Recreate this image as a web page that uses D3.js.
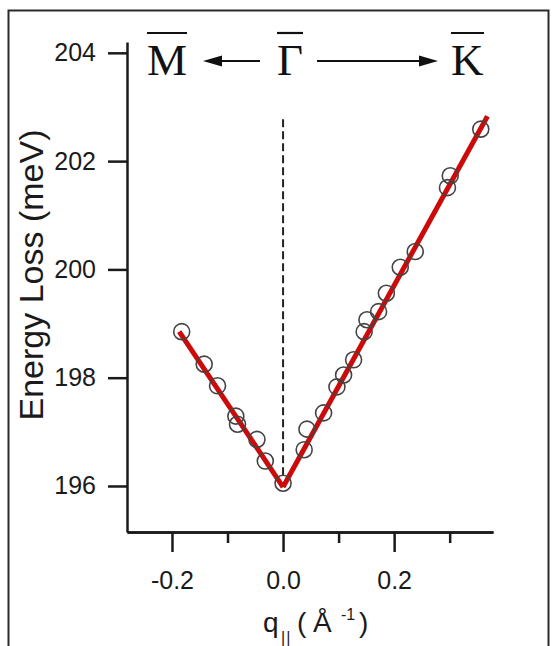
<!DOCTYPE html>
<html>
<head>
<meta charset="utf-8">
<script src="https://cdn.jsdelivr.net/npm/d3@7"></script>
<style>
  body { margin: 0; background: #fff; }
  svg { display: block; }
  .axis path, .axis line { stroke: #1a1a1a; stroke-width: 2.5; }
  .axis text { font-family: "Liberation Sans", Arial, sans-serif; font-size: 25px; fill: #1a1a1a; }
</style>
</head>
<body>
<div id="chart"></div>
<script>
//----------------------------DATA------------------------------//
// measured points, M direction (negative q) and K direction (positive q)
var qM = [-0.1825, -0.142, -0.118, -0.085, -0.082, -0.047, -0.032, 0.0];
var eM = [198.85, 198.25, 197.85, 197.29, 197.14, 196.86, 196.46, 196.05];
var qK = [0.038, 0.043, 0.073, 0.097, 0.109, 0.127, 0.146, 0.151, 0.172, 0.186, 0.211, 0.238, 0.296, 0.301, 0.356];
var eK = [196.67, 197.05, 197.35, 197.83, 198.05, 198.33, 198.85, 199.07, 199.22, 199.56, 200.04, 200.33, 201.51, 201.73, 202.59];

// linear fits (end points)
var fitM = [[-0.187, 198.85], [0.0, 195.98]];
var fitK = [[0.0, 195.98], [0.368, 202.83]];

// dashed Gamma marker
var gammaLine = [[0.0, 196.2], [0.0, 202.8]];

var yTicks = [196, 198, 200, 202, 204];
var xTicksMajor = [-0.2, 0.0, 0.2];
var xTicksMinor = [-0.1, 0.1, 0.3];

//----------------------------SVG-------------------------------//
var W = 557, H = 646;
var svg = d3.select("#chart").append("svg")
    .attr("width", W)
    .attr("height", H);

// outer frame
svg.append("rect")
    .attr("x", 8.5).attr("y", 10.5)
    .attr("width", 540).attr("height", 660)
    .attr("fill", "none")
    .attr("stroke", "#2a2a2a")
    .attr("stroke-width", 2);

//---------------------------SCALES-----------------------------//
var x = d3.scaleLinear().domain([-0.281, 0.378]).range([127, 493]);
var y = d3.scaleLinear().domain([195.15, 204.2]).range([532, 42]);

//----------------------------AXES------------------------------//
svg.append("g")
    .attr("class", "axis")
    .attr("transform", "translate(127,0)")
    .call(d3.axisLeft(y).tickValues(yTicks).tickFormat(d3.format("d"))
        .tickSize(19).tickSizeOuter(0).tickPadding(12));

// minor x ticks
svg.append("g")
    .attr("class", "axis")
    .attr("transform", "translate(0,532)")
    .call(d3.axisBottom(x).tickValues(xTicksMinor).tickFormat("")
        .tickSize(11).tickSizeOuter(0));

svg.append("g")
    .attr("class", "axis")
    .attr("transform", "translate(0,532)")
    .call(d3.axisBottom(x).tickValues(xTicksMajor).tickFormat(d3.format(".1f"))
        .tickSize(20).tickSizeOuter(0).tickPadding(19));

// d3 uses a unicode minus, the figure uses a hyphen
svg.selectAll(".axis text").text(function() { return this.textContent.replace("\u2212", "-"); });

// axis titles
svg.append("text")
    .attr("transform", "translate(43,275) rotate(-90)")
    .attr("text-anchor", "middle")
    .style("font-family", "Liberation Sans, Arial, sans-serif")
    .style("font-size", "34px")
    .style("fill", "#1a1a1a")
    .text("Energy Loss (meV)");

var xt = svg.append("text")
    .attr("y", 632)
    .style("font-family", "Liberation Sans, Arial, sans-serif")
    .style("font-size", "28px")
    .style("fill", "#1a1a1a");
xt.append("tspan").attr("x", 263).text("q");
xt.append("tspan").attr("x", 281).attr("dy", 11).style("font-size", "16px").style("letter-spacing", "1px").text("||");
xt.append("tspan").attr("x", 297).attr("dy", -11).text("(");
xt.append("tspan").attr("x", 313).text("\u00C5");
xt.append("tspan").attr("x", 341).attr("dy", -12).style("font-size", "16px").text("-1");
xt.append("tspan").attr("x", 359).attr("dy", 12).text(")");

//----------------------------LINES-----------------------------//
var line = d3.line()
    .x(function(d) { return x(d[0]); })
    .y(function(d) { return y(d[1]); });

svg.append("path")
    .attr("d", line(gammaLine))
    .attr("fill", "none")
    .attr("stroke", "#222")
    .attr("stroke-width", 2)
    .attr("stroke-dasharray", "8,4");

[fitM, fitK].forEach(function(f) {
    svg.append("path")
        .attr("d", line(f))
        .attr("fill", "none")
        .attr("stroke", "#cc0a0a")
        .attr("stroke-width", 5);
});

//----------------------------POINTS----------------------------//
var pts = qM.map(function(q, i) { return [q, eM[i]]; })
    .concat(qK.map(function(q, i) { return [q, eK[i]]; }));

svg.selectAll(".pt")
    .data(pts)
    .enter()
    .append("circle")
    .attr("class", "pt")
    .attr("cx", function(d) { return x(d[0]); })
    .attr("cy", function(d) { return y(d[1]); })
    .attr("r", 8)
    .attr("fill", "none")
    .attr("stroke", "#444")
    .attr("stroke-width", 1.6);

//------------------------DIRECTION LABELS----------------------//
var serif = "Liberation Serif, Times New Roman, serif";
function barLabel(txt, x0) {
    var t = svg.append("text")
        .attr("x", x0).attr("y", 75)
        .style("font-family", serif)
        .style("font-size", "45px")
        .style("fill", "#111")
        .text(txt);
    var b = t.node().getBBox();
    svg.append("line")
        .attr("x1", b.x).attr("x2", b.x + b.width)
        .attr("y1", 33).attr("y2", 33)
        .attr("stroke", "#111").attr("stroke-width", 2.2);
}
barLabel("M", 147);
barLabel("\u0393", 277);
barLabel("K", 451);

function arrow(x1, x2) {
    var dir = x2 > x1 ? 1 : -1;
    svg.append("line")
        .attr("x1", x1).attr("x2", x2 - dir * 12)
        .attr("y1", 61).attr("y2", 61)
        .attr("stroke", "#111").attr("stroke-width", 2);
    svg.append("path")
        .attr("d", "M" + x2 + ",61 L" + (x2 - dir * 19) + ",55.5 L" + (x2 - dir * 19) + ",66.5 Z")
        .attr("fill", "#111");
}
arrow(260, 203);
arrow(317, 438);
</script>
</body>
</html>
